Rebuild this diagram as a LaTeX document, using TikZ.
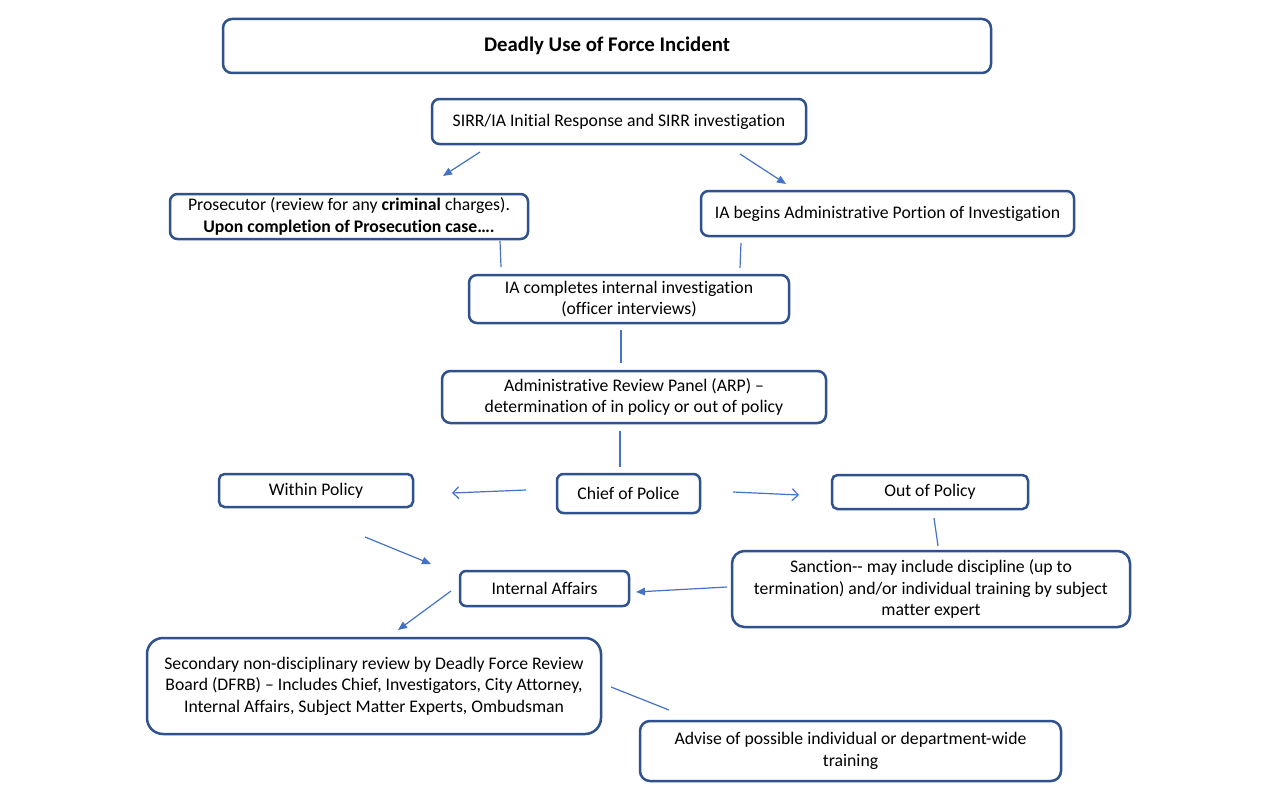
\documentclass[tikz,border=0pt]{standalone}
\usepackage{fontspec}
\setmainfont{Carlito}[Ligatures={NoCommon}]
\usetikzlibrary{arrows.meta}
\definecolor{boxc}{HTML}{2F528F}
\definecolor{linec}{HTML}{4472C4}
\tikzset{
  box/.style={draw=boxc, line width=2.5pt, fill=white, align=center, inner sep=0pt,
    font=\fontsize{17.7}{21.5}\selectfont},
  conn/.style={draw=linec, line width=1.2pt},
  farrow/.style={conn, -{Triangle[length=9pt,width=7.5pt]}},
  oarrow/.style={conn, -{Straight Barb[length=6pt,width=12pt,line width=1.2pt]}},
}
\begin{document}
\begin{tikzpicture}[x=1pt,y=-1pt]
\useasboundingbox (0,0) rectangle (1280,800);
\fill[white] (0,0) rectangle (1280,800);

\node[box, minimum width=768pt, minimum height=54pt, rounded corners=9pt, font=\fontsize{20.8}{24}\selectfont] (title) at (607,46) {\textbf{Deadly Use of Force Incident}};
\node[box, minimum width=374pt, minimum height=45pt, rounded corners=7.5pt] (sirr) at (619,121.5) {SIRR/IA Initial Response and SIRR investigation};
\node[box, minimum width=358pt, minimum height=45pt, rounded corners=7.5pt] (pros) at (349,216.5) {Prosecutor (review for any \textbf{criminal} charges).\\\textbf{Upon completion of Prosecution case….}};
\node[box, minimum width=373pt, minimum height=45pt, rounded corners=7.5pt] (iab) at (887.5,213.5) {IA begins Administrative Portion of Investigation};
\node[box, minimum width=320pt, minimum height=48pt, rounded corners=8pt] (iac) at (629,299) {IA completes internal investigation\\(officer interviews)};
\node[box, minimum width=384pt, minimum height=52pt, rounded corners=8.5pt] (arp) at (634,397) {Administrative Review Panel (ARP) –\\determination of in policy or out of policy};
\node[box, minimum width=194pt, minimum height=33pt, rounded corners=5.5pt] (within) at (316,490.5) {Within Policy};
\node[box, minimum width=143pt, minimum height=39pt, rounded corners=6.5pt] (chief) at (628.5,493.5) {Chief of Police};
\node[box, minimum width=196pt, minimum height=34pt, rounded corners=5.5pt] (out) at (930,492) {Out of Policy};
\node[box, minimum width=169pt, minimum height=35pt, rounded corners=6pt] (ia) at (544.5,588.5) {Internal Affairs};
\node[box, minimum width=398pt, minimum height=76pt, rounded corners=12.5pt] (sanc) at (931,589) {Sanction-{}- may include discipline (up to\\termination) and/or individual training by subject\\matter expert};
\node[box, minimum width=454pt, minimum height=96pt, rounded corners=16pt] (sec) at (374,686) {Secondary non-disciplinary review by Deadly Force Review\\Board (DFRB) – Includes Chief, Investigators, City Attorney,\\Internal Affairs, Subject Matter Experts, Ombudsman};
\node[box, minimum width=421pt, minimum height=60pt, rounded corners=10pt] (adv) at (850.5,751) {Advise of possible individual or department-wide\\training};

% free connector ends
\coordinate (c1a) at (480,152); \coordinate (c1b) at (443,176);
\coordinate (c2a) at (740,154); \coordinate (c2b) at (786,184);
\coordinate (c3a) at (500,241); \coordinate (c3b) at (501,267);
\coordinate (c4a) at (741,243); \coordinate (c4b) at (740,268);
\coordinate (c5a) at (621,330); \coordinate (c5b) at (621,363);
\coordinate (c6a) at (620,431); \coordinate (c6b) at (620,467);
\coordinate (c7a) at (526,490); \coordinate (c7b) at (452,493);
\coordinate (c8a) at (733,492); \coordinate (c8b) at (799,495);
\coordinate (c9a) at (934,518); \coordinate (c9b) at (938,546);
\coordinate (c10a) at (365,537); \coordinate (c10b) at (431,564);
\coordinate (c11a) at (727,587); \coordinate (c11b) at (636,592);
\coordinate (c12a) at (451,591); \coordinate (c12b) at (398,630);
\coordinate (c13a) at (611,687); \coordinate (c13b) at (669,710);

\draw[farrow] (c1a) -- (c1b);
\draw[farrow] (c2a) -- (c2b);
\draw[conn] (c3a) -- (c3b);
\draw[conn] (c4a) -- (c4b);
\draw[conn] (c5a) -- (c5b);
\draw[conn] (c6a) -- (c6b);
\draw[oarrow] (c7a) -- (c7b);
\draw[oarrow] (c8a) -- (c8b);
\draw[conn] (c9a) -- (c9b);
\draw[farrow] (c10a) -- (c10b);
\draw[farrow] (c11a) -- (c11b);
\draw[farrow] (c12a) -- (c12b);
\draw[conn] (c13a) -- (c13b);
\end{tikzpicture}
\end{document}
